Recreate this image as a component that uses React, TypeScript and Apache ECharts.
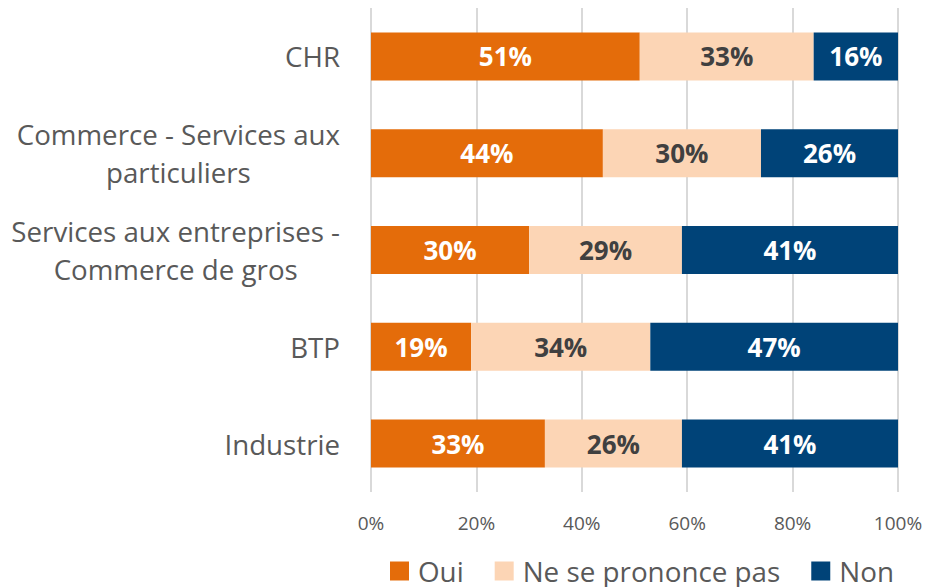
import React, { useEffect, useRef } from "react";
import * as echarts from "echarts";

const categories = [
  "CHR",
  "Commerce - Services aux\nparticuliers",
  "Services aux entreprises -\nCommerce de gros",
  "BTP",
  "Industrie",
];
const oui = [51, 44, 30, 19, 33];
const neSePrononcePas = [33, 30, 29, 34, 26];
const non = [16, 26, 41, 47, 41];
const xTicks = [0, 20, 40, 60, 80, 100];

const FONT = "'Open Sans', 'Noto Sans', sans-serif";
const CAT_SIZE = 27.7;

function measure(text: string, size: number): number {
  const c = document.createElement("canvas").getContext("2d");
  if (!c) return text.length * size * 0.55;
  c.font = `${size}px 'Open Sans'`;
  return c.measureText(text).width;
}

export default function App() {
  const ref = useRef<HTMLDivElement>(null);
  useEffect(() => {
    if (!ref.current) return;
    const chart = echarts.init(ref.current, undefined, { renderer: "svg" });

    // Rich styles so multi-line labels are centred line by line
    // while the whole block stays right-aligned against the axis.
    const rich: Record<string, any> = {};
    const formatted: Record<string, string> = {};
    categories.forEach((cat, ci) => {
      const lines = cat.split("\n");
      const widths = lines.map((l) => measure(l, CAT_SIZE));
      const maxW = Math.max(...widths);
      formatted[cat] = lines
        .map((l, li) => {
          const key = `c${ci}l${li}`;
          rich[key] = {
            fontSize: CAT_SIZE,
            fontFamily: FONT,
            color: "#595959",
            lineHeight: 38,
            padding: [0, Math.max(0, (maxW - widths[li]) / 2), 0, 0],
          };
          return `{${key}|${l}}`;
        })
        .join("\n");
    });

    const label = (color: string) => ({
      show: true,
      position: "inside",
      formatter: (p: any) => `${p.value}%`,
      color,
      fontFamily: FONT,
      fontWeight: "bold",
      fontSize: 26,
    });
    chart.setOption({
      animation: false,
      textStyle: { fontFamily: FONT },
      grid: { left: 371, right: 28, top: 8, bottom: 95, containLabel: false },
      xAxis: {
        type: "value",
        min: xTicks[0],
        max: xTicks[xTicks.length - 1],
        interval: 20,
        axisLabel: {
          formatter: "{value}%",
          color: "#595959",
          fontSize: 19,
          fontFamily: FONT,
          margin: 21,
        },
        axisLine: { show: false },
        axisTick: { show: false },
        splitLine: { show: true, lineStyle: { color: "#d9d9d9", width: 2 } },
      },
      yAxis: {
        type: "category",
        inverse: true,
        data: categories,
        axisLine: { show: false },
        axisTick: { show: false },
        axisLabel: {
          color: "#595959",
          fontSize: CAT_SIZE,
          fontFamily: FONT,
          margin: 31,
          align: "right",
          formatter: (v: string) => formatted[v] ?? v,
          rich,
        },
      },
      legend: {
        left: 390,
        top: 557,
        padding: 0,
        itemWidth: 19,
        itemHeight: 19,
        itemGap: 31,
        icon: "rect",
        textStyle: { color: "#595959", fontSize: 27.8, fontFamily: FONT, padding: [0, 0, 0, 4] },
        data: ["Oui", "Ne se prononce pas", "Non"],
      },
      series: [
        {
          name: "Oui",
          type: "bar",
          stack: "total",
          barWidth: 48,
          data: oui,
          itemStyle: { color: "#E46C0A" },
          label: label("#ffffff"),
        },
        {
          name: "Ne se prononce pas",
          type: "bar",
          stack: "total",
          barWidth: 48,
          data: neSePrononcePas,
          itemStyle: { color: "#FCD5B5" },
          label: label("#404040"),
        },
        {
          name: "Non",
          type: "bar",
          stack: "total",
          barWidth: 48,
          data: non,
          itemStyle: { color: "#004378" },
          label: label("#ffffff"),
        },
      ],
    });
    return () => chart.dispose();
  }, []);
  return <div ref={ref} style={{ width: 926, height: 587, position: "absolute", left: 0, top: 0 }} />;
}
